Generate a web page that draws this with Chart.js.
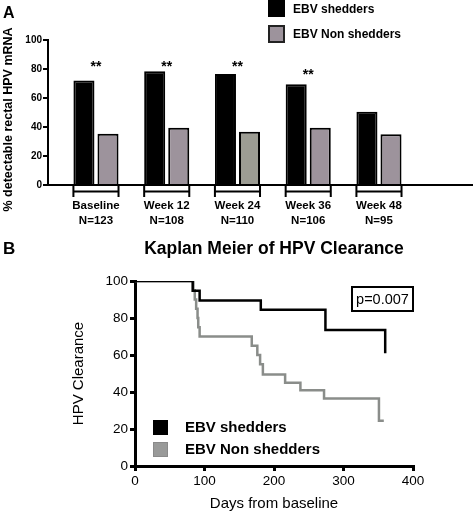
<!DOCTYPE html>
<html><head><meta charset="utf-8">
<script src="https://cdn.jsdelivr.net/npm/chart.js@4.4.1/dist/chart.umd.min.js"></script>
<style>
html,body{margin:0;padding:0;background:#fff;}
#wrap{position:relative;width:473px;height:514px;overflow:hidden;font-family:"Liberation Sans",Arial,Helvetica,sans-serif;color:#000;}
canvas{position:absolute;left:0;}
.t{position:absolute;white-space:nowrap;}
.sq{position:absolute;box-sizing:border-box;}
</style></head><body>
<div id="wrap">
<canvas id="cA" width="473" height="240" style="top:0"></canvas>
<canvas id="cB" width="473" height="274" style="top:240px"></canvas>

<div class="t" style="left:3px;top:5px;font:bold 16px/16px 'Liberation Sans',Arial,sans-serif;">A</div>
<div class="sq" style="left:268px;top:0px;width:17px;height:17px;background:#000;"></div>
<div class="t" style="left:293px;top:3px;font:bold 12px/12px 'Liberation Sans',Arial,sans-serif;">EBV shedders</div>
<div class="sq" style="left:268px;top:25px;width:17px;height:18px;background:#9d939c;border:2px solid #222;"></div>
<div class="t" style="left:293px;top:28px;font:bold 12px/12px 'Liberation Sans',Arial,sans-serif;">EBV Non shedders</div>

<div class="t" style="left:3px;top:240px;font:bold 17px/17px 'Liberation Sans',Arial,sans-serif;">B</div>
<div class="t" style="left:274px;top:239px;transform:translateX(-50%);font:bold 17.5px/18px 'Liberation Sans',Arial,sans-serif;">Kaplan Meier of HPV Clearance</div>
<div class="t" style="left:351px;top:286px;width:63px;height:26px;box-sizing:border-box;border:2px solid #000;text-align:center;font:14.5px/22px 'Liberation Sans',Arial,sans-serif;">p=0.007</div>
<div class="sq" style="left:153px;top:420px;width:15px;height:15px;background:#000;"></div>
<div class="t" style="left:185px;top:419px;font:bold 15px/15px 'Liberation Sans',Arial,sans-serif;">EBV shedders</div>
<div class="sq" style="left:153px;top:442px;width:15px;height:15px;background:#999a99;border:1px solid #8a8a8a;"></div>
<div class="t" style="left:185px;top:441px;font:bold 15px/15px 'Liberation Sans',Arial,sans-serif;">EBV Non shedders</div>
</div>
<script>
// ---------- Panel A data ----------
const categories = ['Baseline', 'Week 12', 'Week 24', 'Week 36', 'Week 48'];
const nLabels = ['N=123', 'N=108', 'N=110', 'N=106', 'N=95'];
const ebvShedders = [72, 78.4, 76.6, 69.4, 50.6];
const ebvNonShedders = [35.4, 39.5, 36.8, 39.5, 35.0];
const sigLabels = ['**', '**', '**', '**', ''];
const sigLevel = [78.5, 78.5, 78.5, 73, null];

// ---------- Panel B data (Kaplan-Meier steps) ----------
const shedDays = [0, 83, 93, 181, 274, 360];
const shedSurv = [100, 94.7, 89.5, 84.5, 73.5, 61];
const nonDays = [0, 84, 86, 88, 90, 91, 93, 168, 176, 180, 184, 216, 238, 272, 351, 358];
const nonSurv = [100, 95, 90, 85, 80, 75, 70, 65, 60, 55, 49.5, 45, 41, 36.5, 24.5, 24.5];

const FONT = "'Liberation Sans', Arial, sans-serif";
Chart.defaults.font.family = FONT;
Chart.defaults.color = '#000';

const nonColors = ['#9d939c', '#9d939c', '#9c9c93', '#9d939c', '#9d939c'];

const groupMarks = {
  id: 'groupMarks',
  afterDatasetsDraw(chart) {
    const ctx = chart.ctx;
    const m0 = chart.getDatasetMeta(0).data;
    const m1 = chart.getDatasetMeta(1).data;
    const b = chart.chartArea.bottom;
    const ys = chart.scales.y;
    ctx.save();
    ctx.strokeStyle = '#000';
    ctx.lineWidth = 2;
    categories.forEach((c, i) => {
      const e0 = m0[i].getProps(['x', 'width'], true);
      const e1 = m1[i].getProps(['x', 'width'], true);
      const l = e0.x - e0.width / 2, r = e1.x + e1.width / 2;
      ctx.beginPath();
      ctx.moveTo(l, b + 1); ctx.lineTo(l, b + 12);
      ctx.moveTo(r, b + 1); ctx.lineTo(r, b + 12);
      ctx.moveTo(l, b + 6.5); ctx.lineTo(r, b + 6.5);
      ctx.stroke();
      if (sigLabels[i] && sigLevel[i] != null) {
        ctx.font = 'bold 14px ' + FONT;
        ctx.fillStyle = '#000';
        ctx.textAlign = 'center';
        ctx.textBaseline = 'alphabetic';
        ctx.fillText(sigLabels[i], (l + r) / 2, ys.getPixelForValue(sigLevel[i]));
      }
    });
    ctx.restore();
  }
};

new Chart(document.getElementById('cA'), {
  type: 'bar',
  data: {
    datasets: [
      { label: 'EBV shedders', data: ebvShedders.map((v, i) => ({x: i, y: v})),
        backgroundColor: '#000', borderColor: '#000', borderWidth: 2 },
      { label: 'EBV Non shedders', data: ebvNonShedders.map((v, i) => ({x: i, y: v})),
        backgroundColor: nonColors, borderColor: '#000', borderWidth: 2 }
    ]
  },
  options: {
    responsive: false, animation: false, devicePixelRatio: 1,
    categoryPercentage: 0.68, barPercentage: 0.875,
    layout: { padding: { top: 40, right: 0, left: 0, bottom: 0 } },
    plugins: { legend: { display: false }, tooltip: { enabled: false } },
    scales: {
      x: {
        type: 'linear', offset: false, min: -0.678, max: 5.329,
        afterBuildTicks: s => { s.ticks = categories.map((c, i) => ({ value: i })); },
        afterFit: s => { s.height = 55; },
        grid: { display: false, drawTicks: false },
        border: { display: true, color: '#000', width: 2 },
        ticks: { autoSkip: false, maxRotation: 0, padding: 13,
          font: { size: 11.5, weight: 'bold', lineHeight: 1.3 }, color: '#000',
          callback: v => [categories[v], nLabels[v]] }
      },
      y: {
        min: 0, max: 100,
        afterFit: s => { s.width = 48; },
        grid: { drawOnChartArea: false, drawTicks: true, tickLength: 5, lineWidth: 2, color: '#000' },
        border: { display: true, color: '#000', width: 2 },
        ticks: { stepSize: 20, padding: 1, font: { size: 10, weight: 'bold' }, color: '#000' },
        title: { display: true, text: '% detectable rectal HPV mRNA\u00a0\u00a0\u00a0\u00a0', padding: { top: 1, bottom: 0 },
          font: { size: 12.5, weight: 'bold', lineHeight: 1.2 }, color: '#000' }
      }
    }
  },
  plugins: [groupMarks]
});

new Chart(document.getElementById('cB'), {
  type: 'line',
  data: {
    datasets: [
      { label: 'EBV shedders', data: shedDays.map((d, i) => ({x: d, y: shedSurv[i]})),
        borderColor: '#000', backgroundColor: '#000', borderWidth: 2.5, stepped: true,
        pointRadius: 0, fill: false },
      { label: 'EBV Non shedders', data: nonDays.map((d, i) => ({x: d, y: nonSurv[i]})),
        borderColor: '#8a8d8a', backgroundColor: '#999a99', borderWidth: 2.5, stepped: true,
        pointRadius: 0, fill: false }
    ]
  },
  options: {
    responsive: false, animation: false, devicePixelRatio: 1,
    layout: { padding: { top: 41, right: 60, left: 0, bottom: 0 } },
    plugins: { legend: { display: false }, tooltip: { enabled: false } },
    scales: {
      x: {
        type: 'linear', min: 0, max: 400,
        afterFit: s => { s.height = 48; },
        grid: { drawOnChartArea: false, drawTicks: true, tickLength: 5, lineWidth: 3, color: '#000' },
        border: { display: true, color: '#000', width: 3 },
        ticks: { stepSize: 100, padding: 2, font: { size: 13.5 }, color: '#000' },
        title: { display: true, text: 'Days from baseline', padding: { top: 0, bottom: 1 },
          font: { size: 15, lineHeight: 1.2 }, color: '#000' }
      },
      y: {
        type: 'linear', min: 0, max: 100,
        afterFit: s => { s.width = 135; },
        grid: { drawOnChartArea: false, drawTicks: true, tickLength: 5, lineWidth: 3, color: '#000' },
        border: { display: true, color: '#000', width: 3 },
        ticks: { stepSize: 20, padding: 2, font: { size: 13.5 }, color: '#000' },
        title: { display: true, text: 'HPV Clearance', padding: { top: 70, bottom: 0 },
          font: { size: 15, lineHeight: 1.2 }, color: '#000' }
      }
    }
  }
});
</script>
</body></html>
